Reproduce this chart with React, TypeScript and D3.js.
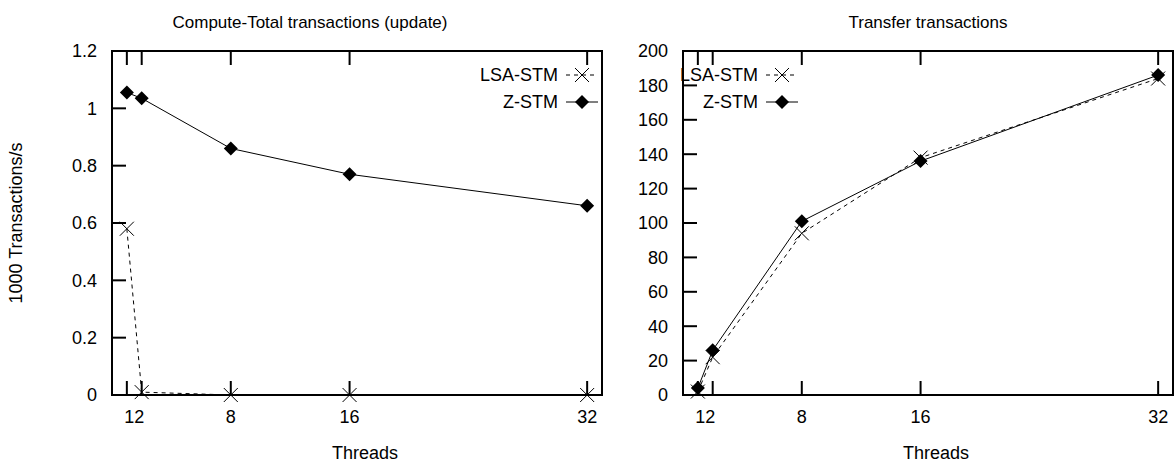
import React from 'react';
import * as d3 from 'd3';

// threads on the x axis
const threads = [1, 2, 8, 16, 32];

// compute-total (1000 tx/s)
const computeLsa = [0.58, 0.01, 0.0, 0.0, 0.0];
const computeZ = [1.055, 1.035, 0.86, 0.77, 0.66];

// transfer (1000 tx/s)
const transferLsa = [2, 22, 94, 138, 184];
const transferZ = [4, 26, 101, 136, 186];

const leftTicks = [0, 0.2, 0.4, 0.6, 0.8, 1, 1.2];
const rightTicks = [0, 20, 40, 60, 80, 100, 120, 140, 160, 180, 200];

const W = 1176;
const H = 466;
const top = 51;
const bottom = 395;
const font = '"Liberation Sans", Arial, sans-serif';

function Cross({ x, y }) {
  const s = 7;
  return (
    <g stroke="black" strokeWidth={1}>
      <line x1={x - s} y1={y - s} x2={x + s} y2={y + s} />
      <line x1={x - s} y1={y + s} x2={x + s} y2={y - s} />
    </g>
  );
}

function Diamond({ x, y }) {
  const s = 7;
  return <path d={`M${x},${y - s}L${x + s},${y}L${x},${y + s}L${x - s},${y}Z`} fill="black" />;
}

function Panel({ left, right, title, titleX, yTicks, yMax, lsa, z, legendX, showYLabel }) {
  const x = d3.scaleLinear().domain([0, 33]).range([left, right]);
  const y = d3.scaleLinear().domain([0, yMax]).range([bottom, top]);
  const lineGen = d3
    .line()
    .x((d) => x(d[0]))
    .y((d) => y(d[1]));
  const lsaPts = threads.map((t, i) => [t, lsa[i]]);
  const zPts = threads.map((t, i) => [t, z[i]]);
  const tickLen = 14;
  const fmt = (v) => (yMax < 2 ? d3.format('~g')(v) : String(v));

  return (
    <g fontFamily={font} fontSize={18}>
      <text x={titleX} y={28} textAnchor="middle" fontSize={17}>
        {title}
      </text>
      {/* y ticks */}
      {yTicks.map((v) => (
        <g key={v}>
          <line x1={left} x2={left + tickLen} y1={y(v)} y2={y(v)} stroke="black" strokeWidth={2} />
          <text x={left - 15} y={y(v)} dy="0.35em" textAnchor="end">
            {fmt(v)}
          </text>
        </g>
      ))}
      {/* x ticks, bottom and mirrored on top */}
      {threads.map((t) => (
        <g key={t}>
          <line x1={x(t)} x2={x(t)} y1={bottom} y2={bottom - tickLen} stroke="black" strokeWidth={2} />
          <line x1={x(t)} x2={x(t)} y1={top} y2={top + tickLen} stroke="black" strokeWidth={2} />
        </g>
      ))}
      <text x={(x(1) + x(2)) / 2} y={bottom + 28} textAnchor="middle">12</text>
      {threads.slice(2).map((t) => (
        <text key={t} x={x(t)} y={bottom + 28} textAnchor="middle">
          {t}
        </text>
      ))}
      <text x={(left + right) / 2 + 8} y={459} textAnchor="middle">
        Threads
      </text>
      {showYLabel && (
        <text transform={`translate(22,${(top + bottom) / 2}) rotate(-90)`} textAnchor="middle">
          1000 Transactions/s
        </text>
      )}
      {/* border */}
      <rect x={left} y={top} width={right - left} height={bottom - top} fill="none" stroke="black" strokeWidth={2} />
      {/* series */}
      <path d={lineGen(lsaPts)} fill="none" stroke="black" strokeWidth={1} strokeDasharray="4,4" />
      <path d={lineGen(zPts)} fill="none" stroke="black" strokeWidth={1} />
      {lsaPts.map((p, i) => (
        <Cross key={'l' + i} x={x(p[0])} y={y(p[1])} />
      ))}
      {zPts.map((p, i) => (
        <Diamond key={'z' + i} x={x(p[0])} y={y(p[1])} />
      ))}
      {/* legend */}
      <text x={legendX} y={75} dy="0.35em" textAnchor="end">LSA-STM</text>
      <line x1={legendX + 8} x2={legendX + 40} y1={75} y2={75} stroke="black" strokeDasharray="4,4" />
      <Cross x={legendX + 24} y={75} />
      <text x={legendX} y={102} dy="0.35em" textAnchor="end">Z-STM</text>
      <line x1={legendX + 8} x2={legendX + 40} y1={102} y2={102} stroke="black" />
      <Diamond x={legendX + 24} y={102} />
    </g>
  );
}

export default function App() {
  return (
    <svg width={W} height={H} style={{ position: 'absolute', left: 0, top: 0, background: 'white' }}>
      <rect width={W} height={H} fill="white" />
      <Panel
        left={112}
        right={602}
        title="Compute-Total transactions (update)"
        titleX={310}
        yTicks={leftTicks}
        yMax={1.2}
        lsa={computeLsa}
        z={computeZ}
        legendX={558}
        showYLabel
      />
      <Panel
        left={683}
        right={1173}
        title="Transfer transactions"
        titleX={928}
        yTicks={rightTicks}
        yMax={200}
        lsa={transferLsa}
        z={transferZ}
        legendX={758}
        showYLabel={false}
      />
    </svg>
  );
}
